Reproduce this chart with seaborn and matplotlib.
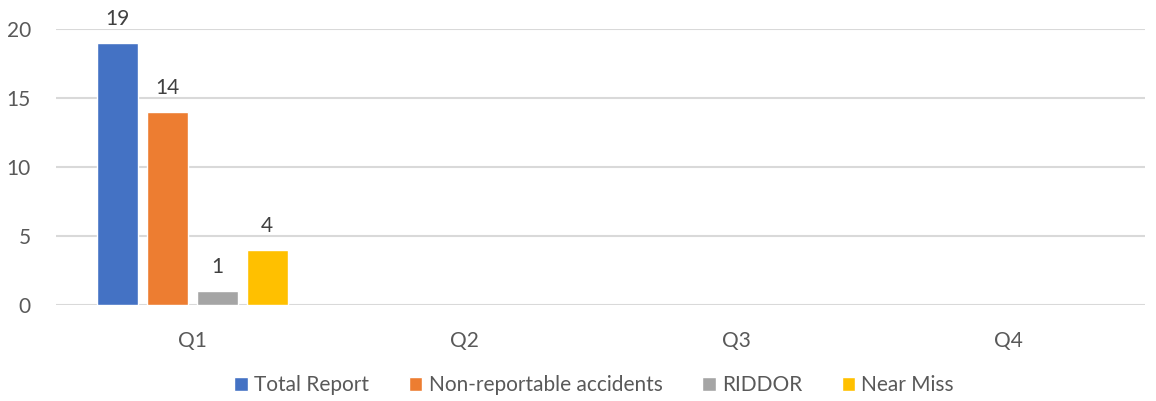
import pandas as pd
import seaborn as sns
import matplotlib.pyplot as plt
import numpy as np

# Values (Q2-Q4 have no data yet)
quarters = ['Q1', 'Q2', 'Q3', 'Q4']
series = ['Total Report', 'Non-reportable accidents', 'RIDDOR', 'Near Miss']
total_report = [19, np.nan, np.nan, np.nan]
non_reportable = [14, np.nan, np.nan, np.nan]
riddor = [1, np.nan, np.nan, np.nan]
near_miss = [4, np.nan, np.nan, np.nan]

colors = ['#4472C4', '#ED7D31', '#A5A5A5', '#FFC000']
text_col = '#595959'

df = pd.DataFrame({
    'Quarter': quarters * 4,
    'Series': np.repeat(series, 4),
    'Value': total_report + non_reportable + riddor + near_miss,
})

sns.set_style('white')
plt.rcParams['font.family'] = ['Lato', 'DejaVu Sans']

fig = plt.figure(figsize=(11.56, 4.01), dpi=100)
ax = fig.add_axes([0.0484, 0.2394, 0.9421, 0.6883])

sns.barplot(data=df, x='Quarter', y='Value', hue='Series', order=quarters,
            hue_order=series, palette=colors, width=0.735, gap=0.18,
            saturation=1, ax=ax, legend=True)

for c in ax.containers:
    labels = ['' if np.isnan(v) else f'{v:g}' for v in c.datavalues]
    ax.bar_label(c, labels=labels, padding=10, fontsize=15, color='#404040')

ax.set_ylim(0, 20)
ax.set_xlim(-0.5, 3.5)
ax.set_yticks([0, 5, 10, 15, 20])
ax.yaxis.grid(True, color='#D9D9D9', linewidth=1.5)
ax.set_axisbelow(True)
for s in ax.spines.values():
    s.set_visible(False)
ax.tick_params(axis='both', length=0, labelsize=15, labelcolor=text_col)
ax.tick_params(axis='x', pad=19)
ax.tick_params(axis='y', pad=18)
ax.set_xlabel('')
ax.set_ylabel('')

handles, labels = ax.get_legend_handles_labels()
ax.legend_.remove()
fig.legend(handles, labels, loc='center', bbox_to_anchor=(0.514, 0.04), ncol=4,
           frameon=False, fontsize=15, labelcolor=text_col, handlelength=0.65,
           handleheight=0.65, handletextpad=0.3, columnspacing=1.9)

fig.savefig('out.png', dpi=100)
